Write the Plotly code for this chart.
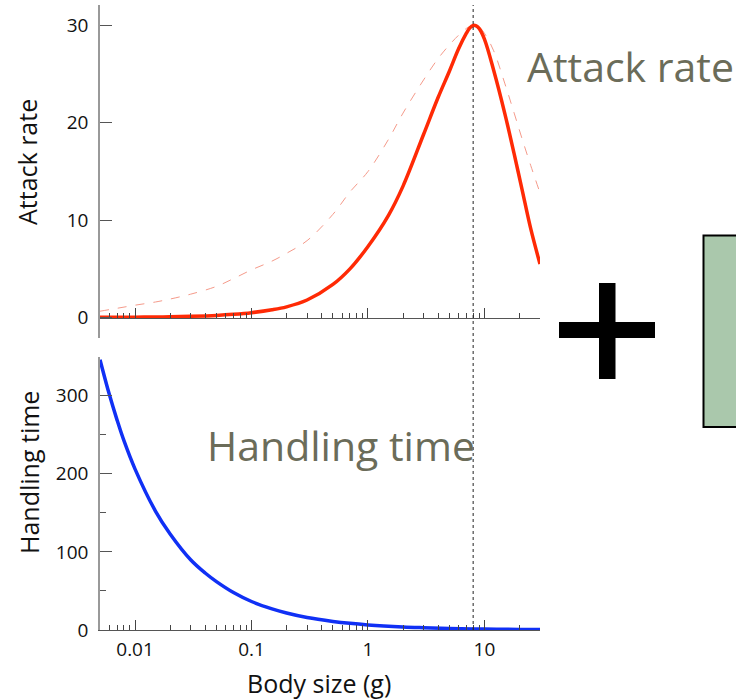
import math
import plotly.graph_objects as go

# ---------------- data ----------------
body_size = [0.005, 0.007, 0.01, 0.015, 0.02, 0.03, 0.05, 0.07, 0.1, 0.15, 0.2, 0.3,
             0.5, 0.7, 1, 1.5, 2, 3, 4, 5, 6, 7, 7.5, 8, 8.5, 9, 10, 12, 15, 18, 21, 25, 30]
attack_rate = [0.02, 0.03, 0.04, 0.06, 0.08, 0.13, 0.22, 0.33, 0.5, 0.8, 1.1, 1.8,
               3.4, 5.0, 7.3, 10.5, 13.5, 18.8, 22.6, 25.3, 27.6, 29.2, 29.75, 30.0, 29.95, 29.7, 28.6,
               25.4, 20.9, 16.8, 13.2, 9.1, 5.5]
attack_rate_alt = [0.65, 0.95, 1.27, 1.6, 1.9, 2.4, 3.2, 4.0, 4.9, 5.8, 6.6, 7.9,
                   10.6, 12.9, 15.0, 18.3, 21.0, 24.4, 26.6, 28.0, 29.0, 29.7, 29.9, 30.0, 29.95, 29.85, 29.2,
                   27.4, 24.0, 21.0, 18.4, 15.6, 12.8]
handling_size = [0.005, 0.006, 0.007, 0.008, 0.01, 0.015, 0.02, 0.03, 0.04, 0.05, 0.07, 0.1,
                 0.15, 0.2, 0.3, 0.5, 0.7, 1, 2, 3, 5, 10, 20, 30]
handling_time = [346, 302, 269, 243, 206, 152, 123, 90, 73, 62, 48, 36.5, 27, 21.8, 16,
                 11, 8.5, 6.5, 3.9, 2.9, 1.9, 1.2, 0.7, 0.5]
peak_size = 8

x_major = [0.01, 0.1, 1, 10]
x_major_text = ["0.01", "0.1", "1", "10"]
x_minor = [0.006, 0.007, 0.008, 0.009,
           0.02, 0.03, 0.04, 0.05, 0.06, 0.07, 0.08, 0.09,
           0.2, 0.3, 0.4, 0.5, 0.6, 0.7, 0.8, 0.9,
           2, 3, 4, 5, 6, 7, 8, 9, 20, 30]
attack_ticks = [0, 10, 20, 30]
handling_ticks = [0, 100, 200, 300]
handling_minor = [50, 150, 250, 350]

# ---------------- layout helpers ----------------
W, H = 736, 700
def fx(p):
    return p / W
def fy(p):
    return 1 - p / H

TXT = "#6b6c59"
AXF = "Open Sans"

fig = go.Figure()

fig.add_trace(go.Scatter(x=body_size, y=attack_rate_alt, mode="lines",
                         line=dict(color="#f59a8a", width=1, dash="dash", shape="spline"),
                         xaxis="x2", yaxis="y2", hoverinfo="skip"))
fig.add_trace(go.Scatter(x=body_size, y=attack_rate, mode="lines",
                         line=dict(color="#ff2a05", width=3.5, shape="spline"),
                         xaxis="x2", yaxis="y2", hoverinfo="skip"))
fig.add_trace(go.Scatter(x=handling_size, y=handling_time, mode="lines",
                         line=dict(color="#1030f5", width=3.5, shape="spline"),
                         xaxis="x", yaxis="y", hoverinfo="skip"))

xrange = [math.log10(0.005), math.log10(30)]
common_x = dict(type="log", range=xrange, domain=[fx(100), fx(540)],
                showline=True, linecolor="#555555", linewidth=1,
                ticks="inside", ticklen=10, tickwidth=1, tickcolor="#444444",
                tickvals=x_major, ticktext=x_major_text,
                minor=dict(tickvals=x_minor, ticks="inside", ticklen=5,
                           tickwidth=1, tickcolor="#444444", showgrid=False),
                showgrid=False, zeroline=False, automargin=False,
                tickfont=dict(family=AXF, size=19, color="#111111"))

fig.update_layout(
    width=W, height=H,
    margin=dict(l=0, r=0, t=0, b=0),
    paper_bgcolor="white", plot_bgcolor="rgba(0,0,0,0)",
    showlegend=False,
    xaxis=dict(**common_x, anchor="y", ticklabelstandoff=2),
    xaxis2=dict(**common_x, anchor="free", position=fy(317.6), matches="x",
                showticklabels=False),
    yaxis=dict(domain=[fy(630), fy(356.6)], range=[0, 350], anchor="x",
               showline=True, linecolor="#999999", linewidth=1.5,
               ticks="inside", ticklen=12, tickwidth=1, tickcolor="#555555",
               tickvals=handling_ticks,
               minor=dict(tickvals=handling_minor, ticks="inside", ticklen=6,
                          tickwidth=1, tickcolor="#555555", showgrid=False),
               showgrid=False, zeroline=False, automargin=False,
               ticklabelstandoff=6,
               tickfont=dict(family=AXF, size=19, color="#111111")),
    yaxis2=dict(domain=[fy(338), fy(5)], range=[-2.1, 32.1], anchor="x2",
                showline=True, linecolor="#999999", linewidth=1.5,
                ticks="inside", ticklen=12, tickwidth=1, tickcolor="#555555",
                tickvals=attack_ticks,
                showgrid=False, zeroline=False, automargin=False,
                ticklabelstandoff=6,
                tickfont=dict(family=AXF, size=19, color="#111111")),
)

shapes = [
    dict(type="line", xref="x", yref="paper", x0=peak_size, x1=peak_size,
         y0=fy(630), y1=fy(5), line=dict(color="#222222", width=1, dash="dot")),
    dict(type="rect", xref="paper", yref="paper", x0=fx(559), x1=fx(655), y0=fy(338), y1=fy(322),
         fillcolor="black", line=dict(width=0)),
    dict(type="rect", xref="paper", yref="paper", x0=fx(599), x1=fx(615.5), y0=fy(379), y1=fy(283),
         fillcolor="black", line=dict(width=0)),
    dict(type="rect", xref="paper", yref="paper", x0=fx(703.5), x1=fx(760), y0=fy(427), y1=fy(235.5),
         fillcolor="#aac8ac", line=dict(color="black", width=2)),
]
fig.update_layout(shapes=shapes)

annotations = [
    dict(text="Attack rate", x=fx(27), y=fy(162), textangle=-90, xanchor="center",
         font=dict(family=AXF, size=25, color="#111111")),
    dict(text="Handling time", x=fx(29), y=fy(473), textangle=-90, xanchor="center",
         font=dict(family=AXF, size=25, color="#111111")),
    dict(text="Body size (g)", x=fx(319), y=fy(683), xanchor="center",
         font=dict(family=AXF, size=25, color="#111111")),
    dict(text="Attack rate", x=fx(525), y=fy(66), xanchor="left",
         font=dict(family="Open Sans", size=41, color=TXT)),
    dict(text="Handling time", x=fx(205), y=fy(445), xanchor="left",
         font=dict(family="Open Sans", size=41, color=TXT)),
]
for a in annotations:
    a.update(xref="paper", yref="paper", showarrow=False, yanchor="middle")
fig.update_layout(annotations=annotations)

fig.write_html("out.html")
